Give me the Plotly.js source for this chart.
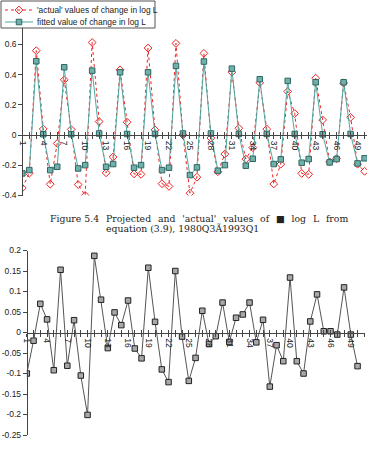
<!DOCTYPE html>
<html>
<head>
<meta charset="utf-8">
<script src="https://cdn.plot.ly/plotly-3.0.1.min.js"></script>
<style>
  html, body { margin: 0; padding: 0; background: #fff; }
  #chart { width: 367px; height: 449px; }
</style>
</head>
<body>
<div id="chart"></div>
<script>
// Quarterly change in log L, 1980Q3 onwards (observation numbers 1..50)
const actualChange = [
  -0.350, -0.253, 0.558, 0.040, -0.325, -0.056, 0.365, 0.037, -0.328, -0.400,
   0.612, 0.089, -0.250, -0.145, 0.431, 0.085, -0.257, -0.260, 0.575, 0.034,
  -0.322, -0.340, 0.606, 0.000, -0.385, -0.279, 0.540, -0.020, -0.243, -0.126,
   0.416, 0.045, -0.159, -0.083, 0.346, 0.039, -0.324, -0.193, 0.288, 0.142,
  -0.254, -0.260, 0.376, 0.100, -0.178, -0.156, 0.344, 0.117, -0.193, -0.240
];
const fittedChange = [
  -0.254, -0.232, 0.488, 0.005, -0.232, -0.210, 0.448, 0.005, -0.221, -0.199,
   0.426, 0.010, -0.210, -0.192, 0.415, 0.007, -0.216, -0.199, 0.415, 0.007,
  -0.232, -0.216, 0.457, 0.010, -0.265, -0.214, 0.486, 0.010, -0.236, -0.199,
   0.439, 0.007, -0.203, -0.157, 0.369, 0.007, -0.192, -0.161, 0.358, 0.007,
  -0.183, -0.159, 0.349, 0.005, -0.181, -0.159, 0.349, 0.007, -0.188, -0.154
];
const residuals = [
  -0.100, -0.020, 0.070, 0.032, -0.092, 0.153, -0.081, 0.030, -0.105, -0.201,
   0.187, 0.080, -0.038, 0.049, 0.018, 0.078, -0.039, -0.063, 0.158, 0.026,
  -0.090, -0.121, 0.150, -0.010, -0.118, -0.062, 0.053, -0.028, -0.009, 0.073,
  -0.023, 0.036, 0.044, 0.073, -0.024, 0.031, -0.132, -0.031, -0.070, 0.134,
  -0.070, -0.100, 0.027, 0.093, 0.003, 0.003, -0.005, 0.110, -0.005, -0.082
];
const seriesNames = ["'actual' values of change in log L", "fitted value of change in log L"];
const xTickVals = [1, 4, 7, 10, 13, 16, 19, 22, 25, 28, 31, 34, 37, 40, 43, 46, 49];
const xTickText = xTickVals.map(String);
const topTickVals = [-0.4, -0.2, 0, 0.2, 0.4, 0.6];
const topTickText = ["-0.4", "-0.2", "0", "0.2", "0.4", "0.6"];
const botTickVals = [-0.25, -0.2, -0.15, -0.1, -0.05, 0, 0.05, 0.1, 0.15, 0.2];
const botTickText = ["-0.25", "-0.2", "-0.15", "-0.1", "-0.05", "0", "0.05", "0.1", "0.15", "0.2"];
const captionLabel = "Figure 5.4";
const captionWords = ["Projected", "and", "'actual'", "values", "of", "\u25A0", "log", "L", "from"];
const captionLine2 = "equation (3.9), 1980Q3\u00C31993Q1";

const obs = actualChange.map((_, i) => i + 1);

const W = 367, H = 449;
const px = v => v / W;            // horizontal pixel -> paper fraction
const py = v => 1 - v / H;        // vertical pixel -> paper fraction

const sansFont = "Liberation Sans, Arial, sans-serif";
const tickFont = { family: sansFont, size: 8.5, color: "#222" };
const axisColor = "#444";

const actualStyle = {
  line: { color: "#ee2222", width: 1, dash: "dot" },
  marker: { symbol: "diamond-open", size: 6, color: "#ee2222", line: { width: 1 } }
};
const fittedStyle = {
  line: { color: "#4fa8a2", width: 1 },
  marker: { symbol: "square", size: 5.5, color: "#6fb0ab", line: { color: "#2f6663", width: 1 } }
};

// Legend box geometry (pixels): frame, swatch span and row centres
const legBox = { x0: 1, x1: 155, y0: 1, y1: 28 };
const legSwatch = [5, 19, 33];
const legRows = [10, 22];

const traces = [
  Object.assign({ x: obs, y: actualChange, name: seriesNames[0], xaxis: "x", yaxis: "y",
    mode: "lines+markers" }, actualStyle),
  Object.assign({ x: obs, y: fittedChange, name: seriesNames[1], xaxis: "x", yaxis: "y",
    mode: "lines+markers" }, fittedStyle),
  {
    x: obs, y: residuals, name: "residual", xaxis: "x2", yaxis: "y2",
    mode: "lines+markers",
    line: { color: "#555", width: 1 },
    marker: { symbol: "square", size: 5.5, color: "#a8a8a8", line: { color: "#222", width: 1 } }
  },
  // empty traces so the tick-crossing overlay axes get a subplot
  { x: [], y: [], xaxis: "x3", yaxis: "y", hoverinfo: "skip" },
  { x: [], y: [], xaxis: "x4", yaxis: "y2", hoverinfo: "skip" }
];

// legend swatches, drawn in a small pixel-scaled subplot inside the legend frame
[actualStyle, fittedStyle].forEach((st, i) => {
  traces.push({
    x: legSwatch, y: legSwatch.map(() => legRows[i]), xaxis: "x5", yaxis: "y5",
    mode: "lines+markers", hoverinfo: "skip",
    line: st.line,
    marker: Object.assign({}, st.marker, { opacity: [0, 1, 0] })
  });
});

const topX0 = 22.3, topStep = 6.985;
const botX0 = 26.8, botStep = 6.75;
const topRange = [1, 1 + (W - topX0) / topStep];
const botRange = [1, 1 + (365 - botX0) / botStep];

const baseX = {
  showgrid: false, zeroline: false, automargin: false,
  tickmode: "array", tickvals: xTickVals, ticktext: xTickText,
  tickangle: 90, tickfont: tickFont,
  ticks: "outside", ticklen: 3, tickwidth: 1, tickcolor: axisColor,
  showline: true, linecolor: axisColor, linewidth: 1,
  minor: { dtick: 1, tick0: 1, ticks: "outside", ticklen: 3, tickcolor: axisColor, tickwidth: 1 },
  anchor: "free"
};
const overX = {
  showgrid: false, zeroline: false, automargin: false, showline: false,
  showticklabels: false, tickmode: "linear", tick0: 1, dtick: 1,
  ticks: "inside", ticklen: 3, tickwidth: 1, tickcolor: axisColor,
  anchor: "free"
};
const baseY = {
  showgrid: false, zeroline: false, automargin: false,
  tickmode: "array", tickfont: tickFont,
  ticks: "outside", ticklen: 4, tickwidth: 1, tickcolor: axisColor,
  showline: true, linecolor: axisColor, linewidth: 1
};
const hiddenAxis = { visible: false, showgrid: false, zeroline: false, automargin: false, fixedrange: true };

// caption: first line spread between x=104 and x=343
const captionFont = { family: "DejaVu Serif, serif", size: 9.3, color: "#222" };
const line1 = captionWords.join("\u00A0\u00A0\u200A");

const annText = (text, x, y, font, anchor) => ({
  text, x: px(x), y: py(y), xref: "paper", yref: "paper",
  xanchor: anchor || "left", yanchor: "middle", showarrow: false, font
});

const legendFont = { family: sansFont, size: 8.4, color: "#222" };

const layout = {
  width: W, height: H,
  margin: { l: 0, r: 0, t: 0, b: 0 },
  paper_bgcolor: "#fff", plot_bgcolor: "rgba(0,0,0,0)",
  showlegend: false,
  xaxis: Object.assign({}, baseX, {
    domain: [px(topX0), 1], range: topRange, position: py(135)
  }),
  xaxis3: Object.assign({}, overX, {
    overlaying: "x", range: topRange, position: py(135)
  }),
  yaxis: Object.assign({}, baseY, {
    domain: [py(195.5), py(28)],
    range: [-0.4, -0.4 + (195.5 - 28) / 151.2],
    tickvals: topTickVals, ticktext: topTickText,
    anchor: "free", position: px(topX0)
  }),
  xaxis2: Object.assign({}, baseX, {
    domain: [px(botX0), px(365)], range: botRange, position: py(332.5)
  }),
  xaxis4: Object.assign({}, overX, {
    overlaying: "x2", range: botRange, position: py(332.5)
  }),
  yaxis2: Object.assign({}, baseY, {
    domain: [py(435), py(250.5)],
    range: [-0.25, 0.2],
    tickvals: botTickVals, ticktext: botTickText,
    anchor: "free", position: px(botX0)
  }),
  xaxis5: Object.assign({}, hiddenAxis, {
    domain: [px(legBox.x0), px(legBox.x1)], range: [legBox.x0, legBox.x1], anchor: "y5"
  }),
  yaxis5: Object.assign({}, hiddenAxis, {
    domain: [py(legBox.y1), py(legBox.y0)], range: [legBox.y1, legBox.y0], anchor: "x5"
  }),
  shapes: [{
    type: "rect", xref: "paper", yref: "paper", layer: "below",
    x0: px(legBox.x0), x1: px(legBox.x1), y0: py(legBox.y1), y1: py(legBox.y0),
    line: { color: "#555", width: 1 }, fillcolor: "#fff"
  }],
  annotations: [
    annText(seriesNames[0], 35, legRows[0], legendFont),
    annText(seriesNames[1], 35, legRows[1], legendFont),
    annText(captionLabel, 48, 218.5, captionFont),
    annText(line1, 104, 218.5, captionFont),
    annText(captionLine2, 104, 228, captionFont)
  ]
};

Plotly.newPlot("chart", traces, layout, { displayModeBar: false, staticPlot: true });
</script>
</body>
</html>
